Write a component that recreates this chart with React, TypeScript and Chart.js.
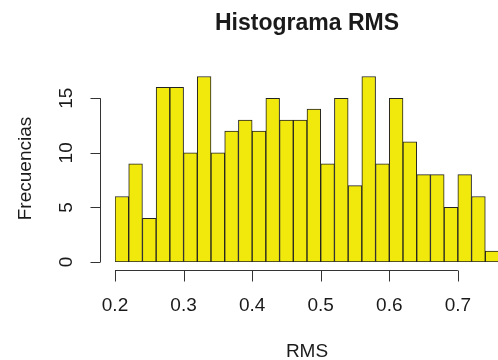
import React, { useEffect, useRef } from "react";
import { Chart, registerables } from "chart.js";

Chart.register(...registerables);

// Histogram bins (start of each bin, width 0.02)
const binStarts = [
  0.2, 0.22, 0.24, 0.26, 0.28, 0.3, 0.32, 0.34, 0.36, 0.38,
  0.4, 0.42, 0.44, 0.46, 0.48, 0.5, 0.52, 0.54, 0.56, 0.58,
  0.6, 0.62, 0.64, 0.66, 0.68, 0.7, 0.72, 0.74,
];
const binWidth = 0.02;
const frequencies = [
  6, 9, 4, 16, 16, 10, 17, 10, 12, 13,
  12, 15, 13, 13, 14, 9, 15, 7, 17, 9,
  15, 11, 8, 8, 5, 8, 6, 1,
];
const xTicks = [0.2, 0.3, 0.4, 0.5, 0.6, 0.7];
const yTicks = [0, 5, 10, 15];
const titleText = "Histograma RMS";
const xTitle = "RMS";
const yTitle = "Frecuencias";

const FONT = "'Liberation Sans', Arial, sans-serif";
const TEXT = "#1a1a1a";

const rAxesPlugin = {
  id: "rAxes",
  afterDraw(chart: any) {
    const { ctx, chartArea, scales } = chart;
    const xs = scales.x;
    const ys = scales.y;
    ctx.save();
    ctx.strokeStyle = "#333";
    ctx.lineWidth = 1;
    ctx.fillStyle = TEXT;

    // Y axis (R style, offset to the left)
    const ax = Math.round(chartArea.left - 15) + 0.5;
    ctx.beginPath();
    ctx.moveTo(ax, ys.getPixelForValue(yTicks[0]));
    ctx.lineTo(ax, ys.getPixelForValue(yTicks[yTicks.length - 1]));
    yTicks.forEach((v) => {
      const py = Math.round(ys.getPixelForValue(v)) + 0.5;
      ctx.moveTo(ax, py);
      ctx.lineTo(ax - 10, py);
    });
    ctx.stroke();
    ctx.font = `19px ${FONT}`;
    ctx.textAlign = "center";
    ctx.textBaseline = "middle";
    yTicks.forEach((v) => {
      const py = ys.getPixelForValue(v);
      ctx.save();
      ctx.translate(ax - 34, py);
      ctx.rotate(-Math.PI / 2);
      ctx.fillText(String(v), 0, 0);
      ctx.restore();
    });

    // X axis (R style, offset below)
    const ay = Math.round(chartArea.bottom + 8) + 0.5;
    ctx.beginPath();
    ctx.moveTo(xs.getPixelForValue(xTicks[0]), ay);
    ctx.lineTo(xs.getPixelForValue(xTicks[xTicks.length - 1]), ay);
    xTicks.forEach((v) => {
      const px = Math.round(xs.getPixelForValue(v)) + 0.5;
      ctx.moveTo(px, ay);
      ctx.lineTo(px, ay + 11);
    });
    ctx.stroke();
    xTicks.forEach((v) => {
      ctx.fillText(v.toFixed(1), xs.getPixelForValue(v), ay + 35);
    });

    // Titles
    const cx = (chartArea.left - 15 + chartArea.right + 15) / 2;
    ctx.fillText(xTitle, cx, 351.5);
    ctx.save();
    ctx.translate(25.5, 168.5);
    ctx.rotate(-Math.PI / 2);
    ctx.fillText(yTitle, 0, 0);
    ctx.restore();
    ctx.font = `bold 23px ${FONT}`;
    ctx.fillText(titleText, cx, 24);
    ctx.restore();
  },
};

export default function App() {
  const ref = useRef<HTMLCanvasElement | null>(null);

  useEffect(() => {
    if (!ref.current) return;
    const data = binStarts.map((s, i) => ({ x: s + binWidth / 2, y: frequencies[i] }));
    const chart = new Chart(ref.current, {
      type: "bar",
      data: {
        datasets: [
          {
            data,
            backgroundColor: "#F2E90C",
            borderColor: "#222",
            borderWidth: 1,
            borderSkipped: false,
            barPercentage: 1,
            categoryPercentage: 1,
          } as any,
        ],
      },
      options: {
        animation: false,
        responsive: false,
        maintainAspectRatio: false,
        devicePixelRatio: 1,
        layout: { padding: { left: 115, right: 1, top: 71, bottom: 98 } },
        plugins: {
          legend: { display: false },
          tooltip: { enabled: false },
          title: { display: false },
        },
        scales: {
          x: {
            type: "linear",
            display: false,
            offset: false,
            min: binStarts[0],
            max: binStarts[binStarts.length - 1] + binWidth,
          },
          y: {
            type: "linear",
            display: false,
            min: 0,
            max: 17.5,
          },
        },
      },
      plugins: [rAxesPlugin],
    });
    return () => chart.destroy();
  }, []);

  return (
    <div
      style={{
        position: "fixed",
        left: 0,
        top: 0,
        width: 498,
        height: 360,
        overflow: "hidden",
        background: "#fff",
      }}
    >
      <canvas ref={ref} width={500} height={360} style={{ width: 500, height: 360, display: "block" }} />
    </div>
  );
}
